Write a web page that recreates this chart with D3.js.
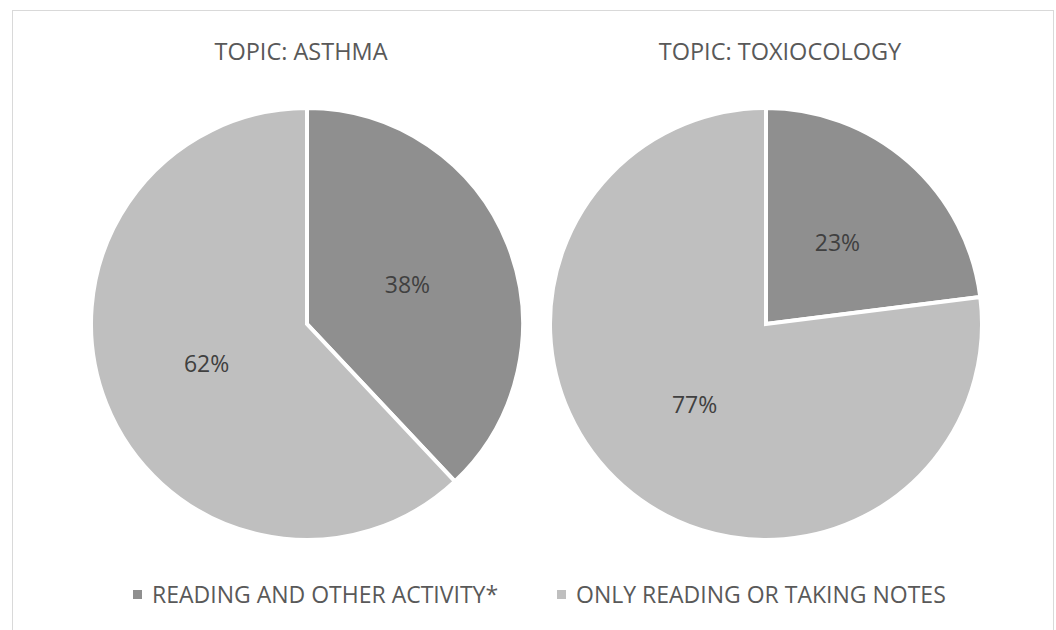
<!DOCTYPE html>
<html>
<head>
<meta charset="utf-8">
<script src="https://cdn.jsdelivr.net/npm/d3@7"></script>
<style>
  html, body { margin: 0; padding: 0; background: #fff; }
  svg { display: block; }
  text { font-family: "Open Sans", "Noto Sans", sans-serif; }
</style>
</head>
<body>
<svg id="chart" width="1056" height="630"></svg>
<script>
// ---- data ----
const categories = ["READING AND OTHER ACTIVITY*", "ONLY READING OR TAKING NOTES"];
const chartTitles = ["TOPIC: ASTHMA", "TOPIC: TOXIOCOLOGY"];
const asthmaValues = [38, 62];
const toxicologyValues = [23, 77];
const seriesList = [asthmaValues, toxicologyValues];

// ---- styles / layout ----
const colors = ["#8f8f8f", "#bfbfbf"];
const svg = d3.select("#chart");

svg.append("rect")
  .attr("x", 12.5).attr("y", 10.5)
  .attr("width", 1041).attr("height", 640)
  .attr("fill", "#fff").attr("stroke", "#d9d9d9").attr("stroke-width", 1);

const centersX = d3.scaleOrdinal().domain([0, 1]).range([307, 766]);
const titleX = d3.scaleOrdinal().domain([0, 1]).range([301, 780]);
const cy = 324, radius = 216;

const color = d3.scaleOrdinal().domain(categories).range(colors);
const pie = d3.pie().sort(null).value(d => d.value);
const arc = d3.arc().innerRadius(0).outerRadius(radius);
const labelArc = d3.arc().innerRadius(radius * 0.5).outerRadius(radius * 0.5);

seriesList.forEach((vals, i) => {
  const data = categories.map((c, k) => ({ cat: c, value: vals[k] }));
  const g = svg.append("g").attr("transform", `translate(${centersX(i)},${cy})`);
  const arcs = pie(data);
  g.selectAll("path").data(arcs).join("path")
    .attr("d", arc)
    .attr("fill", d => color(d.data.cat))
    .attr("stroke", "#fff")
    .attr("stroke-width", 4)
    .attr("stroke-linejoin", "miter");
  g.selectAll("text.lbl").data(arcs).join("text")
    .attr("class", "lbl")
    .attr("transform", d => `translate(${labelArc.centroid(d)})`)
    .attr("text-anchor", "middle")
    .attr("dy", "0.36em")
    .attr("font-size", 23)
    .attr("fill", "#404040")
    .text(d => d.data.value + "%");

  svg.append("text")
    .attr("x", titleX(i)).attr("y", 60)
    .attr("text-anchor", "middle")
    .attr("font-size", 23.5)
    .attr("fill", "#595959")
    .text(chartTitles[i]);
});

// legend
const legendX = d3.scaleOrdinal().domain(categories).range([133, 557]);
const lg = svg.append("g");
categories.forEach(c => {
  lg.append("rect")
    .attr("x", legendX(c)).attr("y", 590)
    .attr("width", 9).attr("height", 9)
    .attr("fill", color(c));
  lg.append("text")
    .attr("x", legendX(c) + 19).attr("y", 603)
    .attr("font-size", 23)
    .attr("fill", "#595959")
    .text(c);
});
</script>
</body>
</html>
